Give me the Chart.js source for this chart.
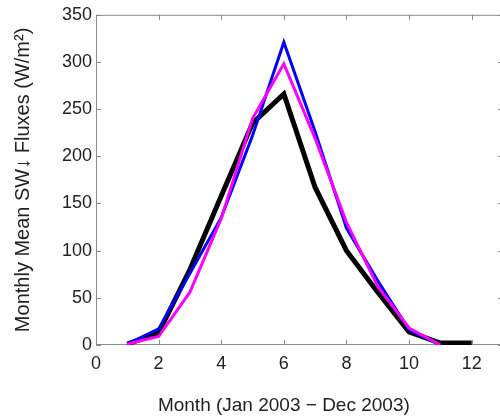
<!DOCTYPE html>
<html>
<head>
<meta charset="utf-8">
<script src="https://cdn.jsdelivr.net/npm/chart.js@4/dist/chart.umd.min.js"></script>
<style>
  html, body { margin: 0; padding: 0; overflow: hidden; background: #fff; }
  #wrap { width: 504px; height: 417px; }
</style>
</head>
<body>
<div id="wrap"><canvas id="myChart" width="504" height="417"></canvas></div>
<script>
// values
const months = [1, 2, 3, 4, 5, 6, 7, 8, 9, 10, 11, 12];
const blackFlux = [1, 13, 80, 158, 235, 266, 167, 100, 56, 14, 2, 2];
const blueFlux = [1, 17, 76, 135, 222, 321, 226, 124, 68, 16, 0];
const magentaFlux = [1, 9, 56, 134, 240, 298, 219, 130, 62, 18, 0];
const xTicks = [0, 2, 4, 6, 8, 10, 12];
const yTicks = [0, 50, 100, 150, 200, 250, 300, 350];

const FONT = 'Liberation Sans, Arial, sans-serif';
const AXIS_COLOR = '#8a8a8a';

function toPoints(values) {
  return values.map((v, i) => ({ x: months[i], y: v }));
}

// MATLAB-like box with inward ticks + x title centred on the 0..12 span
const matlabAxes = {
  id: 'matlabAxes',
  beforeDatasetsDraw(chart) {
    const { ctx, chartArea: a, scales: { x, y } } = chart;
    ctx.save();
    ctx.strokeStyle = AXIS_COLOR;
    ctx.lineWidth = 1;
    ctx.beginPath();
    ctx.rect(a.left + 0.5, a.top + 0.5, a.right - a.left - 1, a.bottom - a.top - 1);
    x.ticks.forEach(t => {
      const px = Math.round(x.getPixelForValue(t.value)) + 0.5;
      ctx.moveTo(px, a.bottom); ctx.lineTo(px, a.bottom - 5);
      ctx.moveTo(px, a.top); ctx.lineTo(px, a.top + 5);
    });
    y.ticks.forEach(t => {
      const py = Math.round(y.getPixelForValue(t.value)) + 0.5;
      ctx.moveTo(a.left, py); ctx.lineTo(a.left + 5, py);
      ctx.moveTo(a.right, py); ctx.lineTo(a.right - 5, py);
    });
    ctx.stroke();
    ctx.restore();
  },
  afterDraw(chart) {
    const { ctx, scales: { x } } = chart;
    ctx.save();
    ctx.fillStyle = '#222';
    ctx.font = '19px ' + FONT;
    ctx.textAlign = 'center';
    ctx.textBaseline = 'alphabetic';
    ctx.fillText('Month (Jan 2003 \u2212 Dec 2003)', x.getPixelForValue(6), 411);
    ctx.restore();
  }
};

const ctx = document.getElementById('myChart').getContext('2d');
new Chart(ctx, {
  type: 'line',
  data: {
    datasets: [
      { label: 'magenta', data: toPoints(magentaFlux), borderColor: '#ff00ff', borderWidth: 3 },
      { label: 'blue', data: toPoints(blueFlux), borderColor: '#0000ff', borderWidth: 3 },
      { label: 'black', data: toPoints(blackFlux), borderColor: '#000000', borderWidth: 5 }
    ]
  },
  options: {
    responsive: false,
    animation: false,
    devicePixelRatio: 1,
    elements: { point: { radius: 0 }, line: { tension: 0, fill: false } },
    layout: { padding: { top: 14, left: 0, right: 1, bottom: 0 } },
    plugins: { legend: { display: false }, tooltip: { enabled: false } },
    scales: {
      x: {
        type: 'linear',
        min: 0,
        max: 13,
        afterBuildTicks: s => { s.ticks = xTicks.map(v => ({ value: v })); },
        afterFit: s => { s.height = 72; },
        grid: { display: false, drawTicks: false },
        border: { display: false },
        ticks: { padding: 8, color: '#222', font: { family: FONT, size: 18 } }
      },
      y: {
        min: 0,
        max: 350,
        afterBuildTicks: s => { s.ticks = yTicks.map(v => ({ value: v })); },
        afterFit: s => { s.width = 96; },
        grid: { display: false, drawTicks: false },
        border: { display: false },
        ticks: { padding: 4, color: '#222', font: { family: FONT, size: 18 } },
        title: {
          display: true,
          text: 'Monthly Mean SW\u2193 Fluxes (W/m\u00b2)',
          color: '#222',
          font: { family: FONT, size: 20 },
          padding: { top: 11, bottom: 0 }
        }
      }
    }
  },
  plugins: [matlabAxes]
});
</script>
</body>
</html>
